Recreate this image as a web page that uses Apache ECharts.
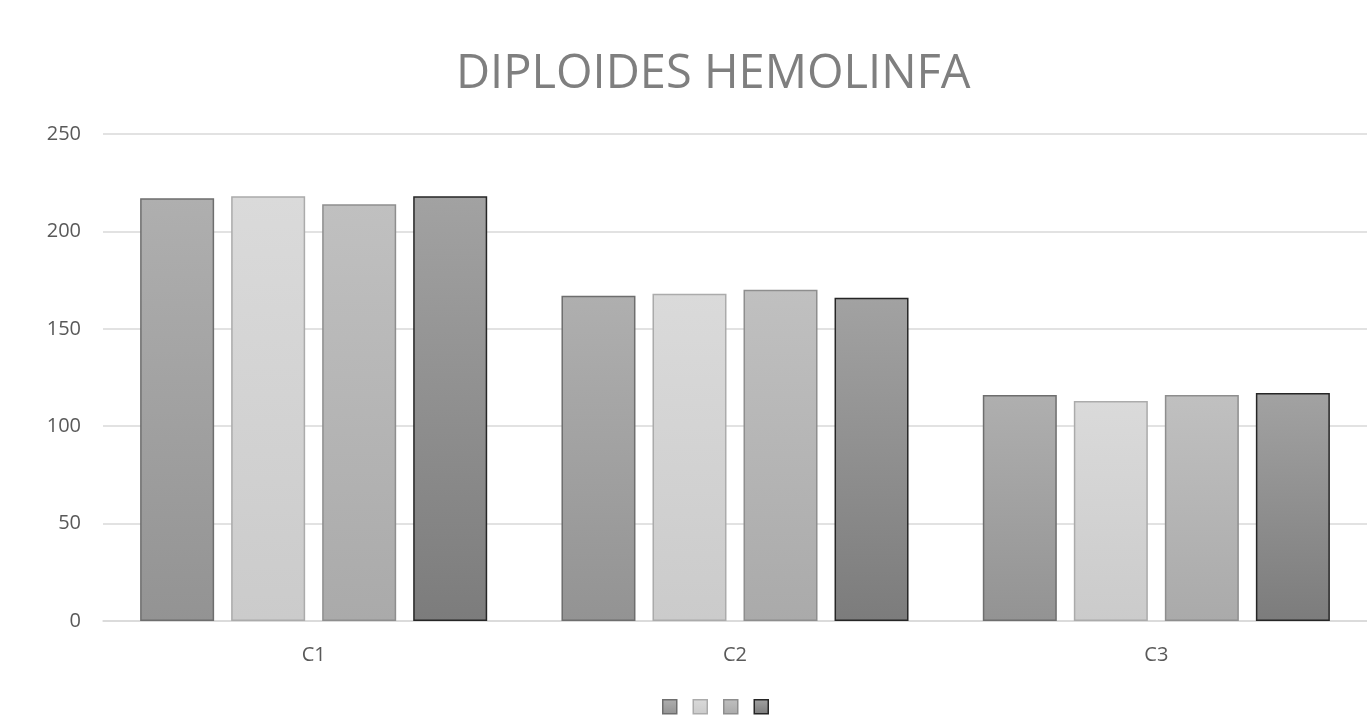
<!DOCTYPE html>
<html>
<head>
<meta charset="utf-8">
<script src="https://cdn.jsdelivr.net/npm/echarts@6/dist/echarts.min.js"></script>
<style>
  html, body { margin: 0; padding: 0; background: #fff; }
  #chart { width: 1367px; height: 718px; }
</style>
</head>
<body>
<div id="chart"></div>
<script>
// Data
const categories = ['C1', 'C2', 'C3']
const serie1 = [217, 167, 116]
const serie2 = [218, 168, 113]
const serie3 = [214, 170, 116]
const serie4 = [218, 166, 117]
const yTicks = [0, 50, 100, 150, 200, 250]

// Gray gradient styles per series: [top, bottom, border]
const styles = [
  ['#afafaf', '#939393', '#6e6e6e'],
  ['#dadada', '#cbcbcb', '#ababab'],
  ['#c0c0c0', '#aaaaaa', '#8e8e8e'],
  ['#a2a2a2', '#7c7c7c', '#262626']
]

const grad = (top, bottom) => new echarts.graphic.LinearGradient(0, 0, 0, 1, [
  { offset: 0, color: top },
  { offset: 1, color: bottom }
])

const seriesData = [serie1, serie2, serie3, serie4]
const names = ['Serie 1', 'Serie 2', 'Serie 3', 'Serie 4']

const chart = echarts.init(document.getElementById('chart'))

chart.setOption({
  animation: false,
  title: {
    text: 'DIPLOIDES HEMOLINFA',
    left: 451,
    top: 46,
    textStyle: {
      fontFamily: 'Open Sans',
      fontSize: 47,
      fontWeight: 'normal',
      color: '#7f7f7f'
    }
  },
  grid: {
    left: 103,
    right: 0,
    top: 134,
    bottom: 97
  },
  legend: {
    top: 699,
    left: 662,
    padding: 0,
    itemWidth: 14,
    itemHeight: 14,
    itemGap: 15,
    formatter: () => '',
    data: names.map((n, i) => ({
      name: n,
      icon: 'rect',
      itemStyle: { color: grad(styles[i][0], styles[i][1]), borderColor: styles[i][2], borderWidth: 1.5 }
    }))
  },
  xAxis: {
    type: 'category',
    data: categories,
    axisTick: { show: false },
    axisLine: { lineStyle: { color: '#d9d9d9', width: 1.5 } },
    axisLabel: {
      fontFamily: 'Open Sans',
      fontSize: 20,
      color: '#595959',
      margin: 24
    }
  },
  yAxis: {
    type: 'value',
    min: yTicks[0],
    max: yTicks[yTicks.length - 1],
    interval: 50,
    axisLine: { show: false },
    axisTick: { show: false },
    axisLabel: {
      fontFamily: 'Open Sans',
      fontSize: 20,
      color: '#595959',
      margin: 22
    },
    splitLine: { lineStyle: { color: '#d9d9d9', width: 1.5 } }
  },
  series: seriesData.map((d, i) => ({
    name: names[i],
    type: 'bar',
    data: d,
    barWidth: 74,
    barGap: '23%',
    barCategoryGap: '17%',
    itemStyle: {
      color: grad(styles[i][0], styles[i][1]),
      borderColor: styles[i][2],
      borderWidth: 1.5
    }
  }))
})
</script>
</body>
</html>
